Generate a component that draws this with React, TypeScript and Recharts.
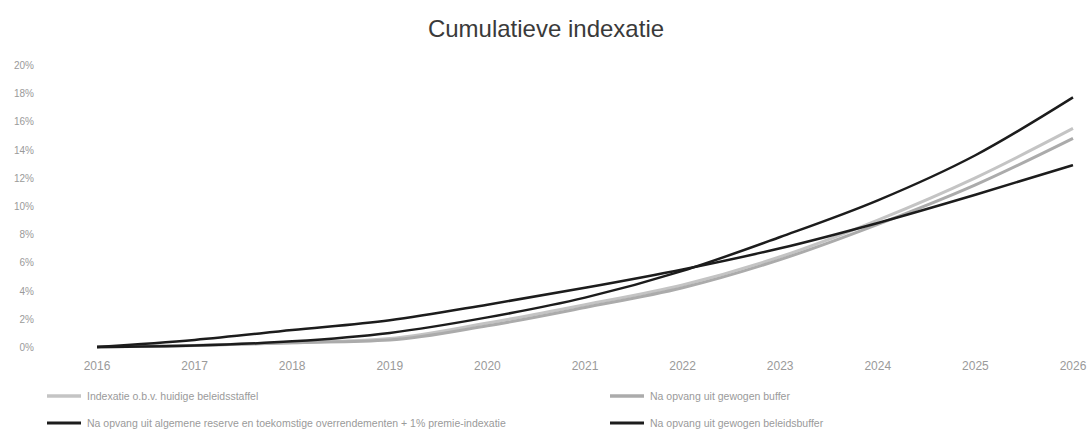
import { LineChart, Line, XAxis, YAxis, Legend } from 'recharts'

const years = ['2016', '2017', '2018', '2019', '2020', '2021', '2022', '2023', '2024', '2025', '2026']

// cumulatieve indexatie in %
const beleid = [0, 0.1, 0.3, 0.6, 1.7, 3.0, 4.4, 6.4, 9.0, 12.0, 15.5]
const gewogenBuffer = [0, 0.1, 0.3, 0.5, 1.5, 2.8, 4.2, 6.2, 8.7, 11.5, 14.8]
const plusPremie = [0, 0.1, 0.4, 1.0, 2.1, 3.5, 5.4, 7.8, 10.4, 13.6, 17.7]
const gewogenReserve = [0, 0.5, 1.2, 1.9, 3.0, 4.2, 5.5, 7.0, 8.8, 10.8, 12.9]

const yTicks = [0, 2, 4, 6, 8, 10, 12, 14, 16, 18, 20]

const SERIES = [
  { key: 'beleid', name: 'Indexatie o.b.v. huidige beleidsstaffel', color: '#c4c4c4', width: 3 },
  { key: 'gewogenBuffer', name: 'Na opvang uit gewogen buffer', color: '#ababab', width: 3 },
  {
    key: 'plusPremie',
    name: 'Na opvang uit algemene reserve en toekomstige overrendementen + 1% premie-indexatie',
    color: '#1c1c1c',
    width: 2.5,
  },
  { key: 'gewogenReserve', name: 'Na opvang uit gewogen beleidsbuffer', color: '#1c1c1c', width: 2.5 },
]

const data = years.map((year, i) => ({
  year,
  beleid: beleid[i],
  gewogenBuffer: gewogenBuffer[i],
  plusPremie: plusPremie[i],
  gewogenReserve: gewogenReserve[i],
}))

function YTick(props: { y?: number; payload?: { value: number } }) {
  const { y = 0, payload } = props
  return (
    <text x={34} y={y} dy={4} textAnchor="end" fill="#9a9a9a" fontSize={10} fontFamily="Liberation Sans, Arial">
      {payload?.value}%
    </text>
  )
}

function renderLegend() {
  // 2 kolommen, 2 rijen
  const cols = [47, 610]
  const rows = [0, 27]
  return (
    <svg width={1092} height={46}>
      {SERIES.map((s, i) => {
        const x = cols[i % 2]
        const y = rows[Math.floor(i / 2)] + 12
        return (
          <g key={s.key}>
            <line x1={x} x2={x + 34} y1={y} y2={y} stroke={s.color} strokeWidth={s.width + 0.5} />
            <text x={x + 40} y={y} dy={3.5} fill="#9a9a9a" fontSize={10.5} fontFamily="Liberation Sans, Arial">
              {s.name}
            </text>
          </g>
        )
      })}
    </svg>
  )
}

export default function App() {
  return (
    <div style={{ position: 'fixed', top: 0, left: 0, width: 1092, height: 430, background: '#fff' }}>
      <div
        style={{
          position: 'absolute',
          top: 15,
          width: 1092,
          textAlign: 'center',
          fontFamily: 'Liberation Sans, Arial',
          fontSize: 24,
          color: '#3a3a3a',
        }}
      >
        Cumulatieve indexatie
      </div>
      <LineChart width={1092} height={430} data={data} margin={{ top: 65, right: 19, left: 0, bottom: 63 }}>
        <XAxis
          dataKey="year"
          axisLine={false}
          tickLine={false}
          interval={0}
          height={20}
          tick={{ fill: '#9a9a9a', fontSize: 12, fontFamily: 'Liberation Sans, Arial' }}
          tickMargin={8}
        />
        <YAxis
          domain={[0, 20]}
          ticks={yTicks}
          width={97}
          axisLine={false}
          tickLine={false}
          tick={<YTick />}
        />
        <Legend
          layout="horizontal"
          verticalAlign="middle"
          align="center"
          wrapperStyle={{ top: 384, left: 0, width: 1092 }}
          content={renderLegend}
        />
        {SERIES.map((s) => (
          <Line
            key={s.key}
            type="monotone"
            dataKey={s.key}
            name={s.name}
            stroke={s.color}
            strokeWidth={s.width}
            dot={false}
            isAnimationActive={false}
          />
        ))}
      </LineChart>
    </div>
  )
}
